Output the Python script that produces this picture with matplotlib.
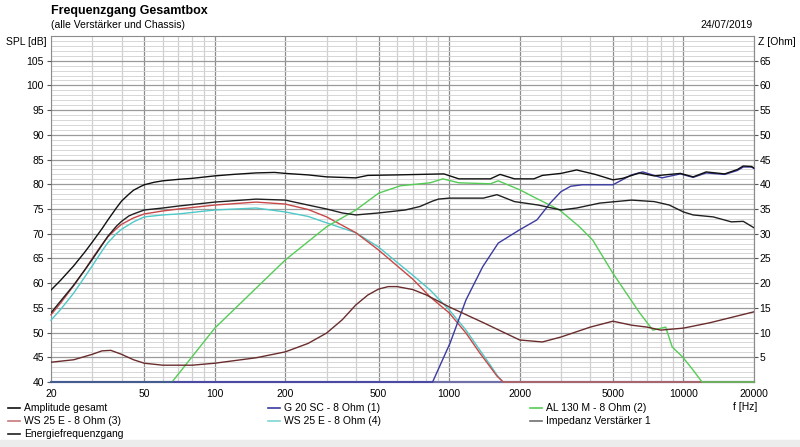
import numpy as np
import matplotlib
matplotlib.use("Agg")
import matplotlib.pyplot as plt
from matplotlib.ticker import FixedLocator, NullFormatter

plt.rcParams['font.family'] = ['Liberation Sans', 'DejaVu Sans']

# frequencies in Hz, levels in dB (impedance in Ohm on right axis)
amp_f = [20, 22, 25, 28, 30, 33, 35, 38, 40, 43, 45, 48, 50, 55, 60, 70, 80, 100, 120, 150,
         180, 200, 250, 300, 400, 450, 600, 950, 1100, 1500, 1650, 1900, 2300, 2500, 3000,
         3500, 4200, 5000, 5500, 6500, 7500, 9700, 11000, 12500, 15000, 17000, 18000, 19500,
         20000]
amp_db = [58.6, 60.6, 63.5, 66.4, 68.3, 71.0, 72.8, 75.2, 76.6, 78.0, 78.8, 79.5, 79.9, 80.4,
          80.7, 81.0, 81.2, 81.7, 82.0, 82.3, 82.4, 82.2, 81.9, 81.5, 81.3, 81.8, 81.9, 82.1,
          81.1, 81.1, 82.0, 81.1, 81.1, 81.8, 82.2, 82.9, 82.0, 80.9, 81.2, 82.3, 81.7, 82.2,
          81.5, 82.5, 82.1, 83.0, 83.7, 83.6, 83.3]

energy_f = [20, 22, 25, 28, 30, 33, 35, 38, 40, 43, 45, 50, 60, 70, 100, 150, 200, 250, 300,
            350, 400, 500, 650, 750, 850, 900, 1000, 1400, 1600, 1900, 2400, 3000, 3500, 4400,
            6000, 7500, 8700, 10000, 11000, 13400, 16000, 18000, 20000]
energy_db = [54.0, 56.4, 59.6, 62.8, 64.8, 67.7, 69.5, 71.5, 72.5, 73.6, 74.0, 74.8, 75.2,
             75.6, 76.4, 77.0, 76.8, 75.8, 75.0, 74.2, 73.8, 74.2, 74.8, 75.5, 76.6, 77.0,
             77.2, 77.2, 77.9, 76.5, 75.8, 74.8, 75.2, 76.2, 76.8, 76.5, 75.8, 74.4, 73.8,
             73.4, 72.4, 72.5, 71.2]

ws3_f = [20, 22, 25, 28, 30, 33, 35, 38, 40, 45, 50, 60, 70, 100, 150, 200, 250, 300, 400,
         500, 600, 700, 830, 1000, 1180, 1350, 1500, 1600, 1700, 20000]
ws3_db = [53.6, 56.0, 59.5, 62.8, 65.0, 67.8, 69.4, 71.0, 71.9, 73.2, 74.0, 74.6, 75.0, 75.8,
          76.4, 76.0, 74.9, 73.4, 70.2, 66.7, 63.5, 60.8, 57.2, 54.0, 49.9, 45.9, 43.0, 41.2,
          40.0, 40.0]

ws4_f = [20, 22, 25, 28, 30, 33, 35, 38, 40, 45, 50, 60, 70, 100, 150, 200, 250, 300, 400,
         500, 600, 700, 830, 1000, 1180, 1350, 1500, 1600, 1700, 20000]
ws4_db = [52.5, 54.7, 58.0, 61.4, 63.5, 66.5, 68.2, 70.0, 70.9, 72.4, 73.4, 73.8, 74.0, 74.8,
          75.2, 74.4, 73.5, 72.2, 70.2, 67.3, 64.2, 61.6, 58.6, 54.6, 50.5, 46.5, 43.4, 41.4,
          40.0, 40.0]

al130_f = [20, 65.7, 100, 200, 300, 400, 500, 620, 830, 940, 1100, 1500, 1620, 2000, 2280,
           2960, 3600, 4100, 5000, 5700, 6500, 7400, 8400, 8950, 9900, 11000, 12000, 20000]
al130_db = [40.0, 40.0, 50.9, 64.7, 71.4, 74.8, 78.2, 79.7, 80.3, 81.1, 80.3, 80.1, 80.7, 78.9,
            77.5, 74.8, 71.4, 68.7, 62.0, 58.0, 54.0, 50.5, 51.1, 47.1, 45.1, 42.4, 40.0, 40.0]

g20_f = [20, 850, 1010, 1180, 1390, 1620, 2000, 2370, 2700, 3000, 3300, 3700, 5000, 6000,
         6700, 8100, 9700, 11000, 12500, 15000, 17000, 18000, 19500, 20000]
g20_db = [40.0, 40.0, 47.9, 56.6, 63.3, 68.1, 70.8, 72.8, 76.2, 78.5, 79.6, 79.9, 79.9, 81.9,
          82.5, 81.3, 82.1, 81.4, 82.3, 82.0, 82.8, 83.5, 83.5, 83.2]

imp_f = [20, 25, 30, 33, 36, 40, 45, 50, 60, 80, 100, 150, 200, 250, 300, 350, 400, 450, 500,
         550, 600, 700, 800, 1000, 1400, 2000, 2500, 3000, 4000, 5000, 6000, 7000, 8000, 10000,
         13000, 20000]
imp_ohm = [4.0, 4.5, 5.6, 6.3, 6.4, 5.6, 4.5, 3.8, 3.4, 3.4, 3.8, 4.9, 6.1, 7.8, 9.9, 12.6,
           15.6, 17.6, 18.8, 19.3, 19.3, 18.7, 17.6, 15.2, 12.0, 8.5, 8.1, 9.1, 11.1, 12.3,
           11.5, 11.1, 10.5, 10.9, 12.0, 14.2]

xtick_vals = [20, 50, 100, 200, 500, 1000, 2000, 5000, 10000, 20000]

fs = 7.5

fig = plt.figure(figsize=(8, 4.47), dpi=100)
fig.patch.set_facecolor("white")
ax = fig.add_axes([51 / 800, 65 / 447, 703 / 800, 346 / 447])

ax.set_xscale("log")
ax.set_xlim(20, 20000)
ax.set_ylim(40, 110)

# right axis for impedance, created first so the curves sit on top
ax2 = ax.twinx()
ax2.set_ylim(0, 70)
ax2.set_yticks(range(5, 70, 5))
ax2.set_yticklabels([str(v) for v in range(5, 70, 5)], fontsize=fs)
ax2.tick_params(axis="y", length=3, color="#555555", pad=1)
ax2.spines["bottom"].set_visible(False)
ax2.spines["top"].set_visible(False)
ax2.spines["left"].set_visible(False)
ax2.spines["right"].set_color("#8c8c8c")
ax2.spines["right"].set_linewidth(0.8)
ax.set_zorder(ax2.get_zorder() + 1)
ax.patch.set_visible(False)

# grid
minor_x = []
for dec in [10, 100, 1000, 10000]:
    for m in range(1, 10):
        v = m * dec
        if 20 <= v <= 20000:
            minor_x.append(v)
for v in minor_x:
    strong = v in xtick_vals[1:-1]
    ax.axvline(v, color="#8c8c8c" if strong else "#cfcfcf", lw=0.9, zorder=0)
for v in range(41, 110):
    strong = v % 5 == 0
    ax.axhline(v, color="#9a9a9a" if strong else "#d6d6d6", lw=0.9 if strong else 0.7, zorder=0)

ax.plot(ws4_f, ws4_db, color="#4fc8c8", lw=1.0, zorder=3, clip_on=False)
ax.plot(ws3_f, ws3_db, color="#c84848", lw=1.0, zorder=3, clip_on=False)
ax.plot(al130_f, al130_db, color="#55cc55", lw=1.0, zorder=3, clip_on=False)
ax.plot(g20_f, g20_db, color="#3a3aa0", lw=1.0, zorder=3, clip_on=False)
ax.plot(imp_f, np.array(imp_ohm) + 40, color="#6a2c2c", lw=1.0, zorder=3)
ax.plot(energy_f, energy_db, color="#202020", lw=1.0, zorder=4)
ax.plot(amp_f, amp_db, color="#101010", lw=1.0, zorder=4)

ax.set_xticks(xtick_vals)
ax.set_xticklabels([str(v) for v in xtick_vals], fontsize=fs)
ax.xaxis.set_minor_locator(FixedLocator([]))
ax.xaxis.set_minor_formatter(NullFormatter())
ax.tick_params(axis="x", length=0, pad=5)

ax.set_yticks(range(40, 110, 5))
ax.set_yticklabels([str(v) for v in range(40, 110, 5)], fontsize=fs)
ax.tick_params(axis="y", length=3, color="#555555", pad=2)

for s in ax.spines.values():
    s.set_color("#8c8c8c")
    s.set_linewidth(0.8)
    s.set_zorder(1)
ax.spines["bottom"].set_linewidth(1.6)
ax.spines["bottom"].set_color("#7070a8")

fig.text(51 / 800, 1 - 11 / 447, "Frequenzgang Gesamtbox", fontsize=9, fontweight="bold", va="center")
fig.text(51 / 800, 1 - 25 / 447, "(alle Verstärker und Chassis)", fontsize=fs, va="center")
fig.text(753 / 800, 1 - 25 / 447, "24/07/2019", fontsize=fs, va="center", ha="right")
fig.text(47 / 800, 1 - 42 / 447, "SPL [dB]", fontsize=fs, va="center", ha="right")
fig.text(758 / 800, 1 - 42 / 447, "Z [Ohm]", fontsize=fs, va="center", ha="left")
fig.text(745 / 800, 1 - 407 / 447, "f [Hz]", fontsize=fs, va="center", ha="center")

# legend entries below the chart
legend_items = [
    ("Amplitude gesamt", "#101010", 8, 408),
    ("WS 25 E - 8 Ohm (3)", "#c87878", 8, 421),
    ("Energiefrequenzgang", "#202020", 8, 434),
    ("G 20 SC - 8 Ohm (1)", "#3a3aa0", 268, 408),
    ("WS 25 E - 8 Ohm (4)", "#7fd4d4", 268, 421),
    ("AL 130 M - 8 Ohm (2)", "#55cc55", 530, 408),
    ("Impedanz Verstärker 1", "#707070", 530, 421),
]
for label, col, px, py in legend_items:
    yf = 1 - py / 447
    fig.add_artist(plt.Line2D([px / 800, (px + 12) / 800], [yf, yf], color=col, lw=1.2))
    fig.text((px + 16) / 800, yf, label, fontsize=fs, va="center")

# grey strip at the very bottom
fig.add_artist(plt.Rectangle((0, 0), 1, 7 / 447, color="#ececec", transform=fig.transFigure))

fig.savefig("out.png", dpi=100)
